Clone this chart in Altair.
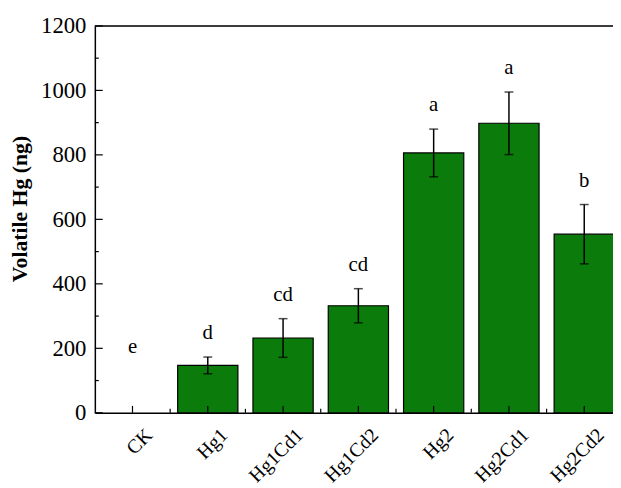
import altair as alt
import pandas as pd

categories = ["CK", "Hg1", "Hg1Cd1", "Hg1Cd2", "Hg2", "Hg2Cd1", "Hg2Cd2"]
means = [0, 147, 232, 332, 806, 898, 554]
sds = [0, 26, 60, 53, 74, 97, 92]
letters = ["e", "d", "cd", "cd", "a", "a", "b"]

y_major = [0, 200, 400, 600, 800, 1000, 1200]
y_minor = [100, 300, 500, 700, 900, 1100]

df = pd.DataFrame({"cat": categories, "mean": means, "sd": sds, "letter": letters})
df["lo"] = df["mean"] - df["sd"]
df["hi"] = df["mean"] + df["sd"]

FONT = "Liberation Serif"
GREEN = "#0b7b0b"
W, H = 534, 392
step = W / len(categories)

xscale = alt.Scale(domain=categories, paddingInner=0.2, paddingOuter=0.1)
yscale = alt.Scale(domain=[0, 1200], nice=False)

x_axis = alt.Axis(title=None, labelAngle=-45, ticks=False, domain=True,
                  labelPadding=12, labelAlign="right", labelBaseline="top",
                  labelOffset=10, labelLimit=300)
y_axis = alt.Axis(title="Volatile Hg  (ng)", values=y_major, ticks=False, format="d",
                  labelPadding=9, grid=False, titleX=-64, titleY=185)

xs = alt.X("cat:N", scale=xscale, sort=categories, axis=x_axis)


def ys(field):
    return alt.Y(field, scale=yscale, axis=y_axis)


base = alt.Chart(df)

bars = base.transform_filter("datum.mean > 0").mark_bar(
    fill=GREEN, stroke="black", strokeWidth=1.2).encode(x=xs, y=ys("mean:Q"))

err = base.transform_filter("datum.sd > 0").mark_rule(color="black", strokeWidth=1.5).encode(
    x=xs, y=ys("lo:Q"), y2="hi:Q")
caps_hi = base.transform_filter("datum.sd > 0").mark_tick(color="black", size=9, thickness=1.5).encode(
    x=xs, y=ys("hi:Q"))
caps_lo = base.transform_filter("datum.sd > 0").mark_tick(color="black", size=9, thickness=1.5).encode(
    x=xs, y=ys("lo:Q"))

labels = base.transform_calculate(anchor="max(datum.hi, 130)").mark_text(
    font=FONT, fontSize=21, color="black", dy=-18, baseline="alphabetic").encode(
    x=xs, y=ys("anchor:Q"), text="letter:N")

# inward ticks
ymaj = alt.Chart(pd.DataFrame({"v": y_major})).mark_rule(color="black", strokeWidth=1.2).encode(
    y=ys("v:Q"), x=alt.value(0), x2=alt.value(8))
ymin = alt.Chart(pd.DataFrame({"v": y_minor})).mark_rule(color="black", strokeWidth=1.2).encode(
    y=ys("v:Q"), x=alt.value(0), x2=alt.value(4))
xmaj = alt.Chart(pd.DataFrame({"cat": categories})).mark_rule(color="black", strokeWidth=1.2).encode(
    x=xs, y=alt.value(H), y2=alt.value(H - 7))
xmin = alt.Chart(pd.DataFrame({"cat": categories[1:]})).mark_rule(
    color="black", strokeWidth=1.2, xOffset=-step / 2).encode(
    x=xs, y=alt.value(H), y2=alt.value(H - 4))
top = alt.Chart(pd.DataFrame({"v": [1200]})).mark_rule(color="black", strokeWidth=1.5).encode(
    y=ys("v:Q"), x=alt.value(0), x2=alt.value(W))

chart = alt.layer(bars, err, caps_hi, caps_lo, labels, ymaj, ymin, xmaj, xmin, top).properties(
    width=W, height=H,
    autosize=alt.AutoSizeParams(type="none"),
    padding={"left": 88, "top": 15, "right": -9, "bottom": 70},
).configure_view(stroke=None).configure(background="white").configure_axis(
    labelFont=FONT, labelFontSize=23, labelColor="black",
    titleFont=FONT, titleFontSize=22, titleFontWeight="bold", titleColor="black",
    domainColor="black", domainWidth=1.5,
).configure_axisX(labelFontSize=20)

chart.save("out.html", embed_options={"renderer": "svg", "actions": False})
